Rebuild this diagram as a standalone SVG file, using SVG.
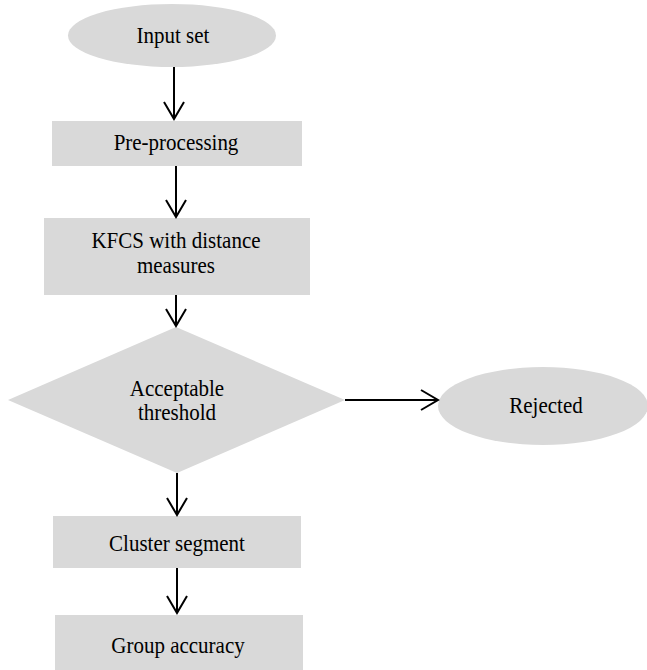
<svg xmlns="http://www.w3.org/2000/svg" width="647" height="670" viewBox="0 0 647 670">
<style>
.n{fill:#d9d9d9;stroke:none}
.t{font-family:'Liberation Serif','Times New Roman','DejaVu Serif',serif;font-size:21px;fill:#000;text-anchor:middle}
.c{stroke:#000;stroke-width:2;fill:none}
</style>
<defs>
<marker id="ah" viewBox="-20 -12 22 24" refX="0" refY="0" markerWidth="22" markerHeight="24" markerUnits="userSpaceOnUse" orient="auto">
<path d="M-17,-10 L0,0 L-17,10" fill="none" stroke="#000" stroke-width="2"/>
</marker>
</defs>
<rect width="647" height="670" fill="#fff"/>
<g id="input">
<ellipse class="n" cx="172" cy="35.5" rx="104" ry="31.5"/>
<text class="t" transform="translate(173,43) scale(1,1.07)">Input set</text>
</g>
<g id="preprocessing">
<rect class="n" x="52" y="121" width="250" height="45"/>
<text class="t" transform="translate(176,150) scale(1,1.07)">Pre-processing</text>
</g>
<g id="kfcs">
<rect class="n" x="44" y="218" width="266" height="77"/>
<text class="t" transform="translate(176,248) scale(1,1.07)">KFCS with distance</text>
<text class="t" transform="translate(176,273) scale(1,1.07)">measures</text>
</g>
<g id="threshold">
<polygon class="n" points="176,327 345,400 177,473 8,400"/>
<text class="t" transform="translate(177,396) scale(1,1.07)">Acceptable</text>
<text class="t" transform="translate(177,420) scale(1,1.07)">threshold</text>
</g>
<g id="rejected">
<ellipse class="n" cx="543" cy="406" rx="105" ry="39"/>
<text class="t" transform="translate(546,413) scale(1,1.07)">Rejected</text>
</g>
<g id="cluster">
<rect class="n" x="53" y="516" width="248" height="52"/>
<text class="t" transform="translate(177,551) scale(1,1.07)">Cluster segment</text>
</g>
<g id="group">
<rect class="n" x="55" y="615" width="248" height="55"/>
<text class="t" transform="translate(178,653) scale(1,1.07)">Group accuracy</text>
</g>
<g id="connectors">
<line class="c" x1="174" y1="67" x2="174" y2="119" marker-end="url(#ah)"/>
<line class="c" x1="176" y1="166" x2="176" y2="217" marker-end="url(#ah)"/>
<line class="c" x1="176" y1="295" x2="176" y2="326" marker-end="url(#ah)"/>
<line class="c" x1="345" y1="400" x2="438" y2="400" marker-end="url(#ah)"/>
<line class="c" x1="177" y1="473" x2="177" y2="515" marker-end="url(#ah)"/>
<line class="c" x1="177" y1="568" x2="177" y2="613" marker-end="url(#ah)"/>
</g>
</svg>
